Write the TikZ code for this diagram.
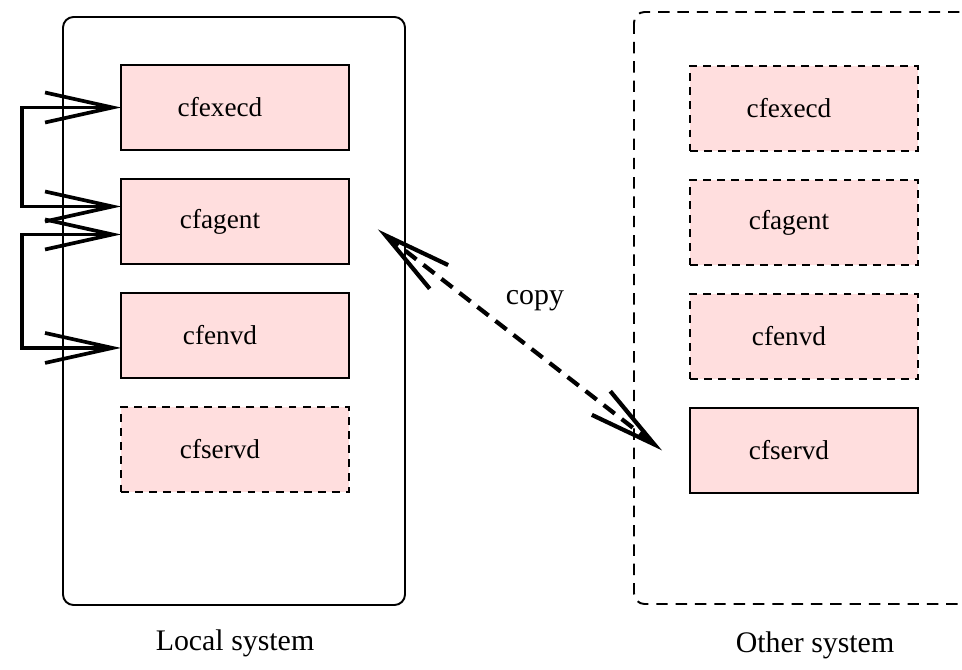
\documentclass[tikz,border=0pt]{standalone}
\usepackage{fontspec}
\setmainfont{Liberation Serif}
\usepackage{xcolor}
\usepackage{tikz}
\usetikzlibrary{positioning,arrows.meta}

\definecolor{procpink}{RGB}{255,222,222}

\begin{document}
\begin{tikzpicture}[x=0.02cm, y=-0.02cm,
    proc/.style={draw, line width=0.9pt, fill=procpink, minimum width=4.56cm, minimum height=1.7cm, outer sep=0pt, font=\fontsize{15.5}{18}\selectfont, execute at begin node=\hspace*{-0.6cm}},
    idle/.style={proc, dash pattern=on 4.5pt off 3.5pt},
    link/.style={line width=2.1pt, {Straight Barb[length=1.35cm,width=0.6cm]}-{Straight Barb[length=1.35cm,width=0.6cm]}},
    syslabel/.style={font=\fontsize{17}{20}\selectfont}]
    \useasboundingbox (0,0) rectangle (962,669);

    % Systems
    \draw[line width=1.1pt, rounded corners=6pt] (63,17) rectangle (405,605);
    \draw[line width=1.1pt, rounded corners=6pt, dash pattern=on 6.5pt off 4.5pt] (634,12) rectangle (990,604);

    % Local system
    \node[proc] (cfexecdL) at (235,107.5) {cfexecd};
    \node[proc, below=0.58cm of cfexecdL] (cfagentL) {cfagent};
    \node[proc, below=0.58cm of cfagentL] (cfenvdL) {cfenvd};
    \node[idle, below=0.58cm of cfenvdL] (cfservdL) {cfservd};

    % Other system
    \node[idle] (cfexecdR) at (804,108.5) {cfexecd};
    \node[idle, below=0.58cm of cfexecdR] (cfagentR) {cfagent};
    \node[idle, below=0.58cm of cfagentR] (cfenvdR) {cfenvd};
    \node[proc, below=0.58cm of cfenvdR] (cfservdR) {cfservd};

    % Links
    \draw[link] (cfexecdL.west) -- ++(-99,0) |- ([yshift=0.3cm]cfagentL.west);
    \draw[link] ([yshift=-0.26cm]cfagentL.west) -- ++(-99,0) |- ([yshift=-0.25cm]cfenvdL.west);

    % Copy
    \draw[link, line width=2.4pt, dash pattern=on 8pt off 5pt]
        ([xshift=0.58cm,yshift=-0.16cm]cfagentL.east) --
        node[midway, xshift=0.3cm, yshift=0.78cm, syslabel] (copylbl) {copy}
        ([xshift=-0.56cm]cfservdR.west);

    \node[syslabel] (lblLocal) at (235,643) {Local system};
    \node[syslabel] (lblOther) at (815,645) {Other system};
\end{tikzpicture}
\end{document}
